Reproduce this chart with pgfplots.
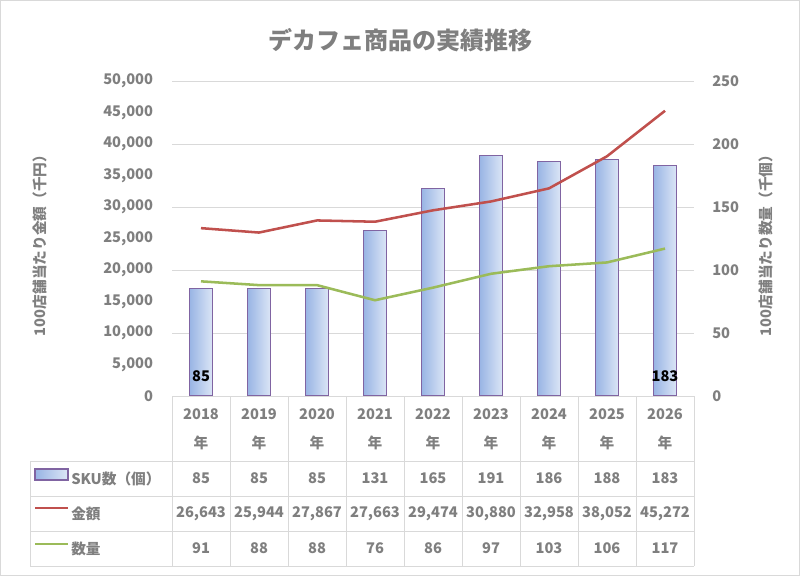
\documentclass[border=0pt]{standalone}
\usepackage{fontspec}
\setmainfont{Noto Sans CJK JP}
\usepackage{pgfplots}
\usepackage{pgfplotstable}
\pgfplotsset{compat=1.18}
\definecolor{txt}{HTML}{7F7F7F}
\definecolor{gridc}{HTML}{D9D9D9}
\definecolor{redl}{HTML}{C0504D}
\definecolor{greenl}{HTML}{9BBB59}
\definecolor{barL}{HTML}{98B4E4}
\definecolor{barR}{HTML}{DCE6F6}
\definecolor{barE}{HTML}{8064A2}
\pgfplotstableread{
x year sku amt qty
0 2018 85 26643 91
1 2019 85 25944 88
2 2020 85 27867 88
3 2021 131 27663 76
4 2022 165 29474 86
5 2023 191 30880 97
6 2024 186 32958 103
7 2025 188 38052 106
8 2026 183 45272 117
}\data
\newcommand{\tf}{\bfseries\fontsize{11}{13}\selectfont}
\begin{document}
\begin{tikzpicture}[x=0.75pt,y=0.75pt]
\useasboundingbox (0,0) rectangle (800,576);
\draw[gridc, line width=0.75pt] (0.5,0.5) rectangle (799.5,575.5);
\coordinate (O) at (172,180);
% title
\node[font=\bfseries\fontsize{18}{21}\selectfont, text=txt] at (400,536) {デカフェ商品の実績推移};
% right axis: bars + quantity
\begin{axis}[at={(O)}, anchor=south west, scale only axis,
  width=391.5pt, height=236.25pt,
  xmin=-0.5, xmax=8.5, ymin=0, ymax=250, ytick={0,50,...,250},
  axis x line=none, axis y line*=right, y axis line style={draw=none},
  major tick length=0pt,
  ymajorgrids, grid style={gridc, line width=0.75pt},
  /pgf/number format/assume math mode=true,
  yticklabel style={font=\tf, text=txt, inner sep=0pt, xshift=13.5pt},
  clip=false]
\pgfplotsinvokeforeach{0,...,8}{
\addplot[ybar, bar width=17.5pt, bar shift=0pt, draw=barE, line width=0.8pt, left color=barL, right color=barR,
  restrict x to domain=#1:#1] table[x=x,y=sku]{\data};
}
\addplot[greenl, line width=1.9pt, mark=none] table[x=x,y=qty]{\data};
\node[font=\tf, text=black] at (axis cs:0,16) {85};
\node[font=\tf, text=black] at (axis cs:8,16) {183};
\end{axis}
% left axis: amount
\begin{axis}[at={(O)}, anchor=south west, scale only axis,
  width=391.5pt, height=236.25pt,
  xmin=-0.5, xmax=8.5, ymin=0, ymax=50000, ytick={0,5000,...,50000},
  axis x line=none, axis y line*=left, y axis line style={draw=none},
  major tick length=0pt, scaled y ticks=false,
  /pgf/number format/assume math mode=true,
  yticklabel style={font=\tf, text=txt, inner sep=0pt, xshift=-14pt,
    /pgf/number format/.cd, fixed, 1000 sep={,}},
  clip=false]
\addplot[redl, line width=1.9pt, mark=none] table[x=x,y=amt]{\data};
\end{axis}
% axis titles
\node[font=\tf, text=txt, rotate=90] at (40,334) {100店舗当たり金額（千円）};
\node[font=\tf, text=txt, rotate=90] at (766,334) {100店舗当たり数量（千個）};
% data table
\begin{scope}[gridc, line width=0.75pt]
\draw (172,180) -- (694,180);
\foreach \yy in {115,80,45,10} \draw (30,\yy) -- (694,\yy);
\draw (30,115) -- (30,10);
\foreach \i in {0,...,9} \draw ({172+58*\i},180) -- ({172+58*\i},10);
\end{scope}
\pgfplotstablegetrowsof{\data}
\pgfmathtruncatemacro{\nr}{\pgfplotsretval-1}
\foreach \i in {0,...,\nr}{
  \pgfplotstablegetelem{\i}{year}\of{\data}\let\vy\pgfplotsretval
  \pgfplotstablegetelem{\i}{sku}\of{\data}\let\vs\pgfplotsretval
  \pgfplotstablegetelem{\i}{amt}\of{\data}\let\va\pgfplotsretval
  \pgfplotstablegetelem{\i}{qty}\of{\data}\let\vq\pgfplotsretval
  \node[font=\tf, text=txt] at ({201+58*\i},162) {\vy};
  \node[font=\tf, text=txt] at ({201+58*\i},133) {年};
  \node[font=\tf, text=txt] at ({201+58*\i},97.5) {\vs};
  \node[font=\tf, text=txt] at ({201+58*\i},62.5) {\pgfmathprintnumber[fixed,1000 sep={,},assume math mode=true]{\va}};
  \node[font=\tf, text=txt] at ({201+58*\i},27.5) {\vq};
}
% legend keys
\draw[barE, line width=0.8pt, left color=barL, right color=barR] (35,107) rectangle (68,96);
\draw[redl, line width=1.9pt] (35,68) -- (68,68);
\draw[greenl, line width=1.9pt] (35,32) -- (68,32);
\node[font=\tf, text=txt, anchor=west, inner sep=0pt] at (71,97.5) {SKU数（個）};
\node[font=\tf, text=txt, anchor=west, inner sep=0pt] at (71,62.5) {金額};
\node[font=\tf, text=txt, anchor=west, inner sep=0pt] at (71,27.5) {数量};
\end{tikzpicture}
\end{document}
